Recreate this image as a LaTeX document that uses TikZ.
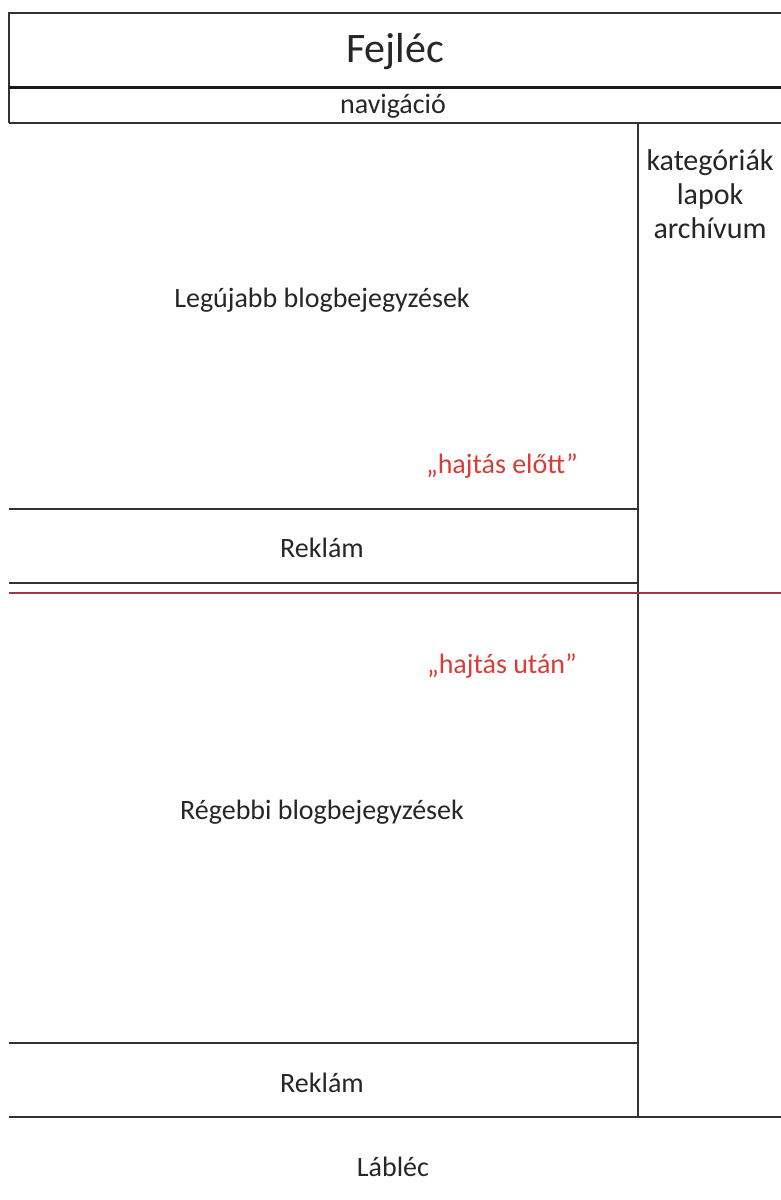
\documentclass[tikz,border=0pt]{standalone}
\usepackage{fontspec}
\setmainfont{Carlito}
\begin{document}
\begin{tikzpicture}[x=1pt,y=-1pt,
  frame/.style={line width=1.8pt,draw=black!80},
  heavy/.style={line width=3pt,draw=black!90},
  fold/.style={line width=1.8pt,draw={rgb,255:red,160;green,55;blue,60}},
  label/.style={text=black!85,font=\fontsize{28}{34}\selectfont,inner sep=0pt},
  title/.style={label,font=\fontsize{42}{50}\selectfont},
  side/.style={label,font=\fontsize{30}{34}\selectfont,align=center},
  foldtext/.style={label,text={rgb,255:red,215;green,60;blue,55}}]
  \useasboundingbox[fill=white] (0,0) rectangle (781,1200);

  % header and navigation bar
  \draw[frame] (781,12.7) -- (9,12.7) -- (9,122.7);
  \draw[heavy] (9,87.7) -- (781,87.7);
  \draw[frame] (9,122.7) -- (781,122.7);

  % sidebar divider
  \draw[frame] (638.3,122.7) -- (638.3,1117.3);

  % content separators
  \draw[frame] (9,509) -- (638.3,509);
  \draw[frame] (9,583.3) -- (638.3,583.3);
  \draw[frame] (9,1043.3) -- (638.3,1043.3);
  \draw[frame] (9,1117.3) -- (781,1117.3);

  % fold line
  \draw[fold] (9,592.7) -- (781,592.7);

  % texts
  \node[title] (fejlec) at (395,52) {Fejléc};
  \node[label] (nav) at (393,106) {navigáció};
  \node[side] (sidebar) at (710,194) {kategóriák\\lapok\\archívum};
  \node[label] (legujabb) at (322,300) {Legújabb blogbejegyzések};
  \node[foldtext] (elott) at (502,466) {„hajtás előtt”};
  \node[label] (reklam1) at (322,548) {Reklám};
  \node[foldtext] (utan) at (502,666) {„hajtás után”};
  \node[label] (regebbi) at (322,812) {Régebbi blogbejegyzések};
  \node[label] (reklam2) at (322,1083) {Reklám};
  \node[label] (lablec) at (393,1167) {Lábléc};
\end{tikzpicture}
\end{document}
